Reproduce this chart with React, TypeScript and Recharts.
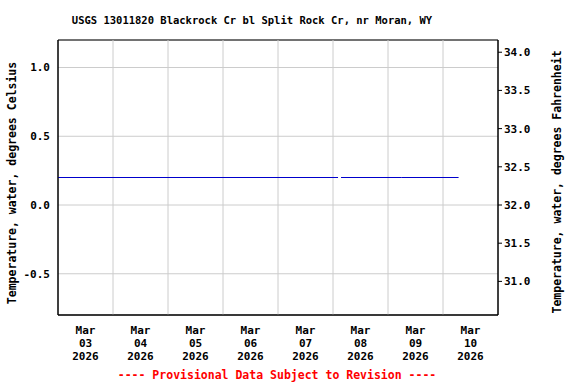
import { LineChart, Line, XAxis, YAxis, CartesianGrid, ReferenceLine, ReferenceArea } from 'recharts';

// hours since Mar 03 2026 00:00
const times = [0, 24, 48, 72, 96, 122.2, 122.8, 123.5, 150, 174.8];
const tempsC = [0.2, 0.2, 0.2, 0.2, 0.2, 0.2, null, 0.2, 0.2, 0.2];

const dayLabels = ['03', '04', '05', '06', '07', '08', '09', '10'];
const labelTicks = [12, 36, 60, 84, 108, 132, 156, 180];
const midnights = [24, 48, 72, 96, 120, 144, 168];
const celsiusTicks = [-0.5, 0, 0.5, 1.0];
const fahrenheitTicks = [31, 31.5, 32, 32.5, 33, 33.5, 34];

const cDomain = [-0.8, 1.2];
const fDomain = [cDomain[0] * 1.8 + 32, cDomain[1] * 1.8 + 32];

const data = times.map((t, i) => ({ t, c: tempsC[i] }));

const FONT = '"DejaVu Sans Mono", monospace';

const DateTick = ({ x, y, payload }: any) => {
  const idx = labelTicks.indexOf(payload.value);
  return (
    <g transform={`translate(${x},${y})`}>
      <text textAnchor="middle" fontFamily={FONT} fontWeight="bold" fontSize={11} fill="#000">
        <tspan x={0} y={19}>Mar</tspan>
        <tspan x={0} y={32}>{dayLabels[idx]}</tspan>
        <tspan x={0} y={45}>2026</tspan>
      </text>
    </g>
  );
};

export default function App() {
  const tickStyle = { fontFamily: FONT, fontWeight: 'bold', fontSize: 11, fill: '#000' };
  return (
    <div style={{ position: 'absolute', left: 0, top: 0, width: 576, height: 384, background: '#fff' }}>
      <LineChart width={576} height={384} data={data} margin={{ top: 40, right: 0, bottom: 19, left: 0 }}>
        <CartesianGrid vertical={false} stroke="#cccccc" yAxisId="c" xAxisId="x" />
        <XAxis
          xAxisId="x"
          dataKey="t"
          type="number"
          domain={[0, 192]}
          ticks={labelTicks}
          interval={0}
          tick={<DateTick />}
          tickLine={false}
          axisLine={{ stroke: '#000' }}
          height={50}
          tickSize={0}
          tickMargin={0}
        />
        <YAxis
          yAxisId="c"
          type="number"
          domain={cDomain}
          ticks={celsiusTicks}
          tickFormatter={(v: number) => v.toFixed(1)}
          tick={tickStyle}
          tickLine={false}
          axisLine={{ stroke: '#000' }}
          width={58}
          allowDataOverflow
        />
        <YAxis
          yAxisId="f"
          orientation="right"
          type="number"
          domain={fDomain}
          ticks={fahrenheitTicks}
          tickFormatter={(v: number) => v.toFixed(1)}
          tick={{ ...tickStyle, textAnchor: 'start' }}
          tickLine={{ stroke: '#000' }}
          tickSize={4}
          tickMargin={2}
          axisLine={{ stroke: '#000' }}
          width={78}
          allowDataOverflow
        />
        {midnights.map((m) => (
          <ReferenceLine key={m} x={m} xAxisId="x" yAxisId="c" stroke="#cccccc" />
        ))}
        <ReferenceArea
          xAxisId="x"
          yAxisId="c"
          x1={0}
          x2={192}
          y1={cDomain[0]}
          y2={cDomain[1]}
          fill="none"
          fillOpacity={0}
          stroke="#000"
        />
        <Line
          xAxisId="x"
          yAxisId="c"
          dataKey="c"
          stroke="#0000cc"
          strokeWidth={1}
          dot={false}
          connectNulls={false}
          isAnimationActive={false}
        />
      </LineChart>
      <svg width={576} height={384} style={{ position: 'absolute', left: 0, top: 0, pointerEvents: 'none' }}>
        <text x={252} y={24} textAnchor="middle" fontFamily={FONT} fontWeight="bold" fontSize={10.5} fill="#000">
          USGS 13011820 Blackrock Cr bl Split Rock Cr, nr Moran, WY
        </text>
        <text
          transform="translate(16,183) rotate(-90)"
          textAnchor="middle"
          fontFamily={FONT}
          fontWeight="bold"
          fontSize={11.5}
          fill="#000"
        >
          Temperature, water, degrees Celsius
        </text>
        <text
          transform="translate(561,182) rotate(-90)"
          textAnchor="middle"
          fontFamily={FONT}
          fontWeight="bold"
          fontSize={11.5}
          fill="#000"
        >
          Temperature, water, degrees Fahrenheit
        </text>
        <text x={277} y={379} textAnchor="middle" fontFamily={FONT} fontWeight="bold" fontSize={11.5} fill="#ff0000">
          ---- Provisional Data Subject to Revision ----
        </text>
      </svg>
    </div>
  );
}
